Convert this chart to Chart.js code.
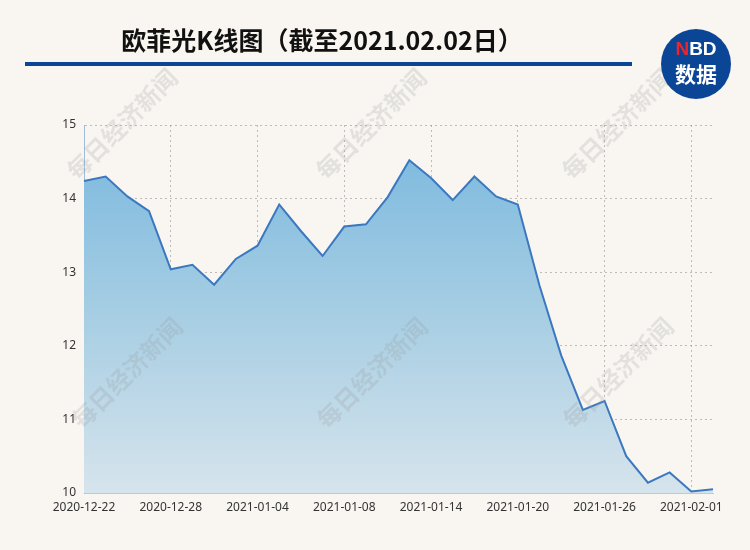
<!DOCTYPE html>
<html><head><meta charset="utf-8">
<script src="https://cdn.jsdelivr.net/npm/chart.js@4/dist/chart.umd.min.js"></script>
<style>
html,body{margin:0;padding:0;background:#f9f6f2;}
#wrap{position:relative;width:750px;height:550px;overflow:hidden;background:#f9f6f2;}
#title{position:absolute;left:0;width:644px;top:22px;text-align:center;font-family:"Noto Sans CJK SC","Noto Sans",sans-serif;font-weight:bold;font-size:25px;color:#111;line-height:34px;}
#rule{position:absolute;left:25px;width:607px;top:62px;height:4px;background:#0b4596;}
#logo{position:absolute;left:661px;top:29px;width:70px;height:70px;border-radius:50%;background:#0b4596;color:#fff;font-family:"Noto Sans CJK SC",sans-serif;font-weight:bold;text-align:center;}
#logo .a{position:absolute;top:9px;left:0;width:70px;font-size:19px;line-height:22px;font-family:"Liberation Sans",Arial,sans-serif;}
#logo .a span{color:#e8262b;}
#logo .b{position:absolute;top:30px;left:0;width:70px;font-size:21px;line-height:28px;}
canvas{position:absolute;left:0;top:0;}
</style></head>
<body><div id="wrap">
<canvas id="c" width="750" height="550"></canvas>
<div id="title">欧菲光K线图（截至2021.02.02日）</div>
<div id="rule"></div>
<div id="logo"><div class="a"><span>N</span>BD</div><div class="b">数据</div></div>
</div>
<script>
const dates = ["2020-12-22","2020-12-23","2020-12-24","2020-12-25","2020-12-28","2020-12-29","2020-12-30","2020-12-31",
"2021-01-04","2021-01-05","2021-01-06","2021-01-07","2021-01-08","2021-01-11","2021-01-12","2021-01-13",
"2021-01-14","2021-01-15","2021-01-18","2021-01-19","2021-01-20","2021-01-21","2021-01-22","2021-01-25",
"2021-01-26","2021-01-27","2021-01-28","2021-01-29","2021-02-01","2021-02-02"];
const closePrices = [14.24,14.30,14.03,13.83,13.04,13.10,12.83,13.18,
13.36,13.92,13.56,13.22,13.62,13.65,14.02,14.52,
14.28,13.98,14.30,14.03,13.92,12.82,11.87,11.13,
11.25,10.50,10.14,10.28,10.02,10.05];
const yTicks = [10,11,12,13,14,15];
const watermarkText = "每日经济新闻";

const watermark = {
  id:'watermark',
  afterDraw(chart){
    const ctx = chart.ctx;
    const spots = [[122,124],[371,124],[617,124],[127,373],[372,373],[618,373]];
    ctx.save();
    ctx.font = 'bold 24px "Noto Sans CJK SC", sans-serif';
    ctx.fillStyle = 'rgba(150,150,150,0.22)';
    ctx.textAlign = 'center';
    ctx.textBaseline = 'middle';
    spots.forEach(([x,y])=>{
      ctx.save();
      ctx.translate(x,y);
      ctx.rotate(-Math.PI/4);
      ctx.fillText(watermarkText,0,0);
      ctx.restore();
    });
    ctx.restore();
  }
};

const ctx = document.getElementById('c').getContext('2d');
const grad = ctx.createLinearGradient(0,125,0,493);
grad.addColorStop(0,'rgb(120,183,222)');
grad.addColorStop(0.5,'rgb(165,205,227)');
grad.addColorStop(1,'rgb(214,228,236)');

new Chart(ctx,{
  type:'line',
  data:{labels:dates,datasets:[{
    data:closePrices,
    borderColor:'#3b78bf',
    borderWidth:2,
    backgroundColor:grad,
    fill:'start',
    pointRadius:0,
    tension:0
  }]},
  options:{
    responsive:false,
    animation:false,
    layout:{padding:{top:125,right:37,left:0,bottom:0}},
    plugins:{legend:{display:false},tooltip:{enabled:false}},
    scales:{
      x:{
        offset:false,
        z:1,
        afterFit(s){s.height=57;},
        border:{display:true,color:'#c8c8c8',width:1,dash:[2,3]},
        grid:{drawTicks:false,color:(c)=> (c.index%4===0 && c.index>0 ? 'rgba(150,150,150,0.6)' : 'rgba(0,0,0,0)')},
        ticks:{autoSkip:false,maxRotation:0,padding:7,color:'#333',font:{family:'"Noto Sans","DejaVu Sans",sans-serif',size:12},
          callback(v,i){return i%4===0?dates[i]:'';}}
      },
      y:{
        min:10,max:15,
        z:1,
        afterFit(s){s.width=84;},
        afterBuildTicks(s){s.ticks=yTicks.map(v=>({value:v}));},
        border:{display:true,color:'#9fbcd8',width:1,dash:[2,3]},
        grid:{drawTicks:false,color:(c)=> (c.index>0 ? 'rgba(150,150,150,0.6)' : 'rgba(0,0,0,0)')},
        ticks:{padding:8,color:'#333',font:{family:'"Noto Sans","DejaVu Sans",sans-serif',size:12}}
      }
    }
  },
  plugins:[watermark]
});
</script>
</body></html>
